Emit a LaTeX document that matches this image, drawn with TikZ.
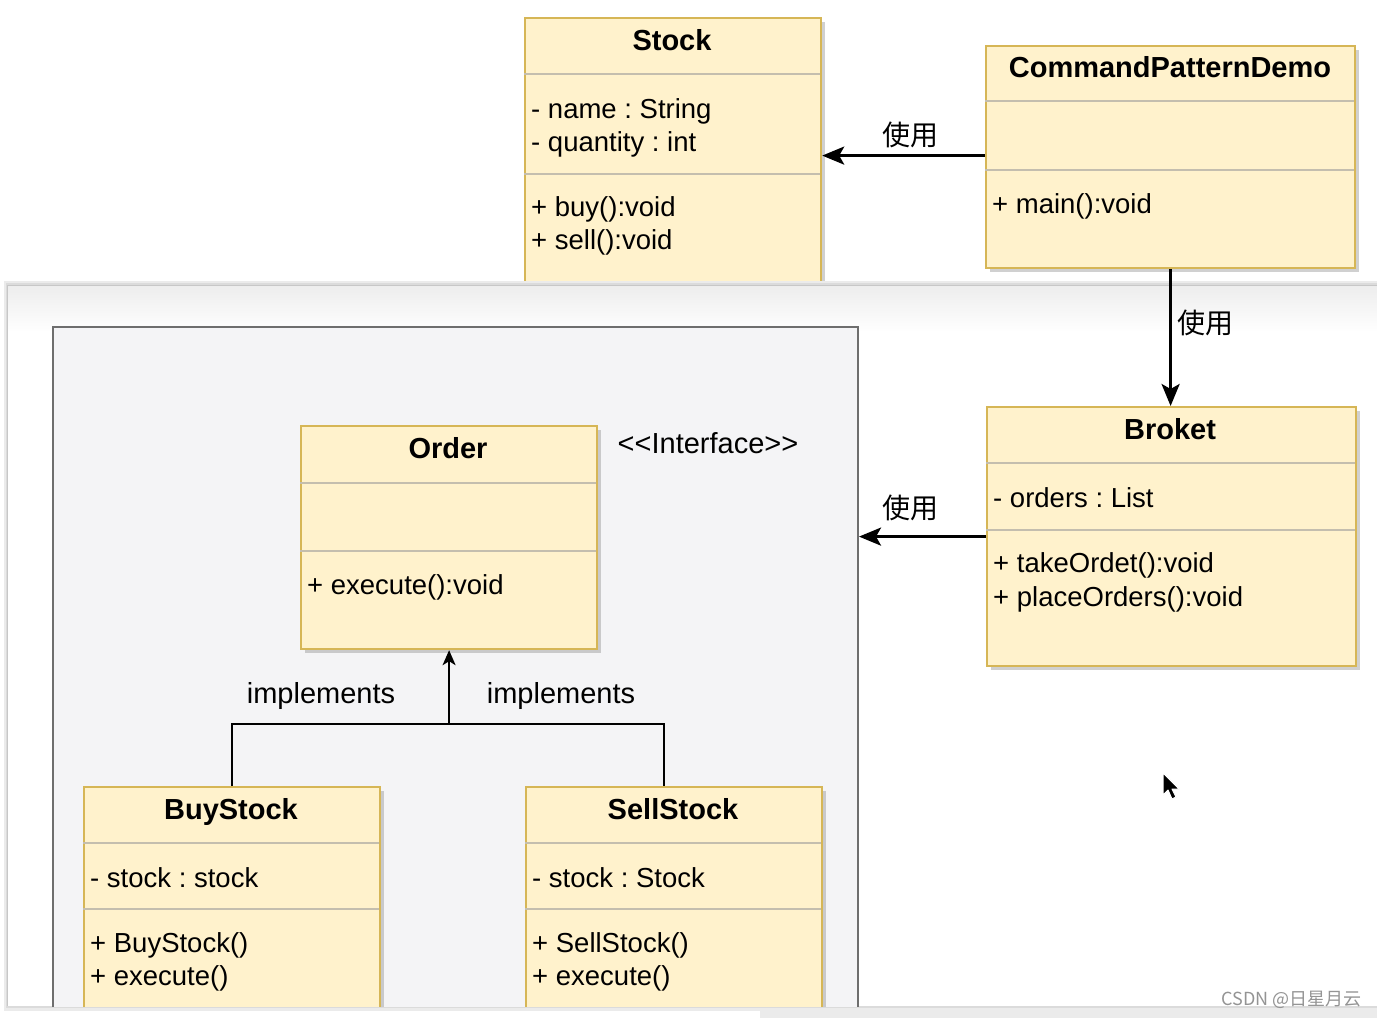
\documentclass[tikz,border=0pt]{standalone}
\usepackage{fontspec}
\setmainfont{Liberation Sans}
\newfontfamily\cjk{Noto Sans CJK SC}
\usetikzlibrary{arrows.meta,calc,shadows}
\definecolor{boxfill}{HTML}{FFF2CC}
\definecolor{boxline}{HTML}{D6B656}
\definecolor{sepline}{HTML}{C4BEAE}
\definecolor{contfill}{HTML}{F4F4F6}
\definecolor{contline}{HTML}{6E6E6E}
\frenchspacing
\tikzset{
 cls/.style={draw=boxline, line width=2.2pt, fill=boxfill, anchor=north west, inner sep=0pt,
   drop shadow={shadow xshift=4pt, shadow yshift=-4pt, opacity=.3, fill=black!60}},
 sep/.style={draw=sepline, line width=2pt},
 ttl/.style={font=\bfseries\fontsize{29}{34}\selectfont, inner sep=0pt, anchor=base},
 mem/.style={font=\fontsize{27.5}{33}\selectfont, inner sep=0pt, anchor=base west},
 note/.style={font=\fontsize{29}{34}\selectfont, inner sep=0pt, anchor=base},
 lbl/.style={font=\cjk\fontsize{28}{32}\selectfont, inner sep=0pt},
 use/.style={-{Stealth[length=22pt,width=18pt,inset=5pt]}, line width=3pt},
 impl/.style={line width=2pt},
}
\begin{document}
\begin{tikzpicture}[x=1pt,y=-1pt]
\useasboundingbox (0,0) rectangle (1377,1018);
\fill[white] (0,0) rectangle (1377,1018);

% ---- Stock (partly hidden by the panel)
\node[cls, minimum width=296pt, minimum height=300pt] (stock) at (524,17) {};
\draw[sep] (524,74) -- (820,74);
\draw[sep] (524,174) -- (820,174);
\node[ttl] (stockT) at (672,50) {Stock};
\node[mem] (stockA1) at (531,118) {- name : String};
\node[mem] (stockA2) at (531,151) {- quantity : int};
\node[mem] (stockM1) at (531,216) {+ buy():void};
\node[mem] (stockM2) at (531,249) {+ sell():void};

% ---- CommandPatternDemo
\node[cls, minimum width=369pt, minimum height=222pt] (demo) at (985,45) {};
\draw[sep] (985,101) -- (1354,101);
\draw[sep] (985,170) -- (1354,170);
\node[ttl] (demoT) at (1170,77) {CommandPatternDemo};
\node[mem] (demoM1) at (992,213) {+ main():void};

% ---- panel (window overlay)
\fill[black!8] (4,281) rectangle (1377,1011);
\fill[black!14] (6,283) rectangle (1377,1008);
\fill[white] (7,285) rectangle (1377,1006);
\shade[top color=black!7, bottom color=white] (8,286) rectangle (1377,332);
\draw[black!22, line width=1pt] (7,1006) -- (7,285) -- (1377,285);
\fill[black!8] (760,1011) rectangle (1377,1018);

\begin{scope}
\clip (7,285) rectangle (1377,1006);
% container
\node[draw=contline, fill=contfill, line width=2pt, anchor=north west, inner sep=0pt,
      minimum width=805pt, minimum height=720pt] (pkg) at (52,326) {};

% ---- Order
\node[cls, minimum width=296pt, minimum height=223pt] (order) at (300,425) {};
\draw[sep] (300,483) -- (596,483);
\draw[sep] (300,551) -- (596,551);
\node[ttl] (orderT) at (448,458) {Order};
\node[mem] (orderM1) at (307,594) {+ execute():void};
\node[note] (iface) at (708,453) {<{}<Interface>{}>};

% ---- BuyStock
\node[cls, minimum width=296pt, minimum height=260pt] (buy) at (83,786) {};
\draw[sep] (83,843) -- (379,843);
\draw[sep] (83,909) -- (379,909);
\node[ttl] (buyT) at (231,819) {BuyStock};
\node[mem] (buyA1) at (90,887) {- stock : stock};
\node[mem] (buyM1) at (90,952) {+ BuyStock()};
\node[mem] (buyM2) at (90,985) {+ execute()};

% ---- SellStock
\node[cls, minimum width=296pt, minimum height=260pt] (sell) at (525,786) {};
\draw[sep] (525,843) -- (821,843);
\draw[sep] (525,909) -- (821,909);
\node[ttl] (sellT) at (673,819) {SellStock};
\node[mem] (sellA1) at (532,887) {- stock : Stock};
\node[mem] (sellM1) at (532,952) {+ SellStock()};
\node[mem] (sellM2) at (532,985) {+ execute()};

% implements
\coordinate (junc) at (order.south |- 0,724);
\draw[impl] (buy.north) |- (junc) -| ([xshift=-10pt]sell.north);
\draw[impl, -{Stealth[length=15pt,width=13pt,inset=4pt]}] (junc) -- (order.south);
\node[note] (im1) at (321,703) {implements};
\node[note] (im2) at (561,703) {implements};
\end{scope}

% ---- Broket
\node[cls, minimum width=369pt, minimum height=259pt] (broket) at (986,406) {};
\draw[sep] (986,463) -- (1355,463);
\draw[sep] (986,530) -- (1355,530);
\node[ttl] (broketT) at (1170,439) {Broket};
\node[mem] (broketA1) at (993,507) {- orders : List};
\node[mem] (broketM1) at (993,572) {+ takeOrdet():void};
\node[mem] (broketM2) at (993,606) {+ placeOrders():void};

% ---- usage connectors
\draw[use] ([yshift=1.5pt]demo.west) -- ([yshift=1.5pt]demo.west -| stock.east);
\draw[use] (demo.south) -- (demo.south |- broket.north);
\draw[use] (broket.west) -- (broket.west -| pkg.east);
\node[lbl] (u1) at (910,135) {使用};
\node[lbl] (u2) at (1205,323) {使用};
\node[lbl] (u3) at (910,508) {使用};

% ---- mouse cursor
\filldraw[fill=black, draw=white, line width=1pt, line join=round]
  (1163,773) -- (1163,795) -- (1168,790) -- (1172,799) -- (1176,797) -- (1172,789) -- (1179,789) -- cycle;

% ---- watermark
\node[font=\cjk\fontsize{18}{20}\selectfont, text=black!42, anchor=base east, inner sep=0pt] (wm) at (1362,1005) {CSDN @日星月云};
\end{tikzpicture}
\end{document}
